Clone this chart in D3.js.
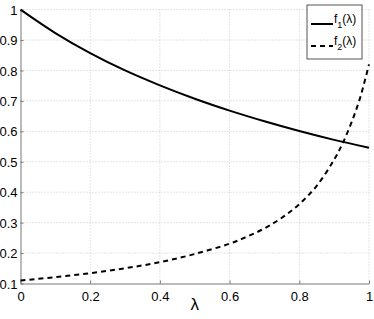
<!DOCTYPE html>
<html lang="en">
<head>
    <meta charset="UTF-8">
    <title>f1 f2 lambda</title>
    <script src="https://cdn.jsdelivr.net/npm/d3@7"></script>
    <style>
        body { margin: 0; background: #fff; }
        text { font-family: "Liberation Sans", Arial, sans-serif; fill: #000; }
        .grid line { stroke: #c8c8c8; stroke-dasharray: 1,2; }
    </style>
</head>
<body>
    <script>
        // data
        let lambda1 = [0, 0.1, 0.2, 0.3, 0.4, 0.5, 0.6, 0.7, 0.8, 0.9, 1];
        let f1 = [1.0, 0.923, 0.857, 0.800, 0.751, 0.707, 0.668, 0.633, 0.601, 0.572, 0.546];
        let lambda2 = [0, 0.1, 0.2, 0.3, 0.4, 0.5, 0.6, 0.65, 0.7, 0.75, 0.8, 0.85, 0.9, 0.925, 0.95, 0.975, 1];
        let f2 = [0.110, 0.121, 0.134, 0.150, 0.170, 0.197, 0.231, 0.254, 0.281, 0.316, 0.361, 0.421, 0.507, 0.562, 0.630, 0.712, 0.820];
        let xTicks = [0, 0.2, 0.4, 0.6, 0.8, 1];
        let yTicks = [0.1, 0.2, 0.3, 0.4, 0.5, 0.6, 0.7, 0.8, 0.9, 1];
        let legendLabels = ['1', '2'];

        let width = 374, height = 319;
        let margin = {left: 20.5, right: 5, top: 9.6, bottom: 35.5};

        let svg = d3.select('body').append('svg')
            .attr('width', width)
            .attr('height', height);

        let x = d3.scaleLinear().domain([0, 1]).range([margin.left, width - margin.right]);
        let y = d3.scaleLinear().domain([0.1, 1]).range([height - margin.bottom, margin.top]);

        // dotted grid
        let grid = svg.append('g').attr('class', 'grid');
        grid.selectAll('.gx').data(xTicks.slice(1)).enter().append('line')
            .attr('x1', d => x(d)).attr('x2', d => x(d))
            .attr('y1', y(0.1)).attr('y2', y(1));
        grid.selectAll('.gy').data(yTicks.slice(1)).enter().append('line')
            .attr('x1', x(0)).attr('x2', x(1))
            .attr('y1', d => y(d)).attr('y2', d => y(d));

        // axes
        let xAxis = d3.axisBottom(x).tickValues(xTicks).tickSizeInner(-3).tickSizeOuter(0)
            .tickPadding(8).tickFormat(d3.format('~g'));
        let yAxis = d3.axisLeft(y).tickValues(yTicks).tickSizeInner(-3).tickSizeOuter(0)
            .tickPadding(4).tickFormat(d3.format('~g'));

        let gx = svg.append('g').attr('transform', 'translate(0,' + y(0.1) + ')').call(xAxis);
        let gy = svg.append('g').attr('transform', 'translate(' + x(0) + ',0)').call(yAxis);
        [gx, gy].forEach(g => {
            g.select('.domain').attr('stroke', '#777').attr('stroke-width', 1);
            g.selectAll('.tick line').attr('stroke', '#777');
            g.selectAll('.tick text').attr('font-size', 13).attr('font-family', '"Liberation Sans", Arial, sans-serif').attr('fill', '#000');
        });
        gy.selectAll('.tick text').attr('dy', '0.35em').attr('x', -3);

        // lines
        let line = d3.line().x(d => x(d[0])).y(d => y(d[1])).curve(d3.curveCatmullRom);
        svg.append('path')
            .datum(d3.zip(lambda1, f1))
            .attr('d', line)
            .attr('fill', 'none').attr('stroke', '#000').attr('stroke-width', 2);
        svg.append('path')
            .datum(d3.zip(lambda2, f2))
            .attr('d', line)
            .attr('fill', 'none').attr('stroke', '#000').attr('stroke-width', 2)
            .attr('stroke-dasharray', '5,4');

        // x label
        svg.append('text')
            .attr('x', x(0.5)).attr('y', 310)
            .attr('text-anchor', 'middle')
            .attr('font-size', 17)
            .text('λ');

        // legend
        let lg = svg.append('g').attr('transform', 'translate(307,5)');
        lg.append('rect').attr('width', 55).attr('height', 54)
            .attr('fill', '#fff').attr('stroke', '#555').attr('stroke-width', 1);
        legendLabels.forEach((s, i) => {
            let yy = 19 + i * 22;
            lg.append('line').attr('x1', 4).attr('x2', 26).attr('y1', yy).attr('y2', yy)
                .attr('stroke', '#000').attr('stroke-width', 2)
                .attr('stroke-dasharray', i === 1 ? '5,4' : null);
            let t = lg.append('text').attr('x', 27).attr('y', yy - 1).attr('font-size', 12);
            t.append('tspan').text('f');
            t.append('tspan').attr('font-size', 9).attr('dy', 5).text(s);
            t.append('tspan').attr('dy', -5).text('(λ)');
        });
    </script>
</body>
</html>
